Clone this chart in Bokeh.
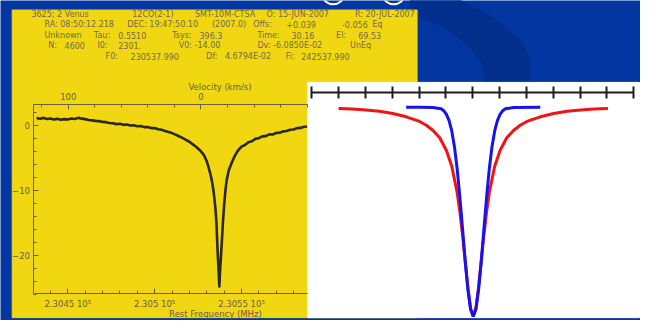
from bokeh.plotting import figure
from bokeh.models import (Range1d, LinearAxis, SingleIntervalTicker, FixedTicker,
                          Label, ColumnDataSource)
from bokeh.core.properties import value
from bokeh.embed import file_html
from bokeh.resources import INLINE

# ---------------- data: observed CO(2-1) spectrum of Venus ----------------
spec_freq = [230432, 230434, 230436, 230438, 230440, 230442, 230444, 230446, 230448, 230450,
             230452, 230454, 230456, 230458, 230460, 230462, 230464, 230466, 230468, 230470,
             230472, 230474, 230476, 230478, 230480, 230482, 230484, 230486, 230488, 230490,
             230492, 230494, 230496, 230498, 230500, 230502, 230504, 230506, 230508, 230510,
             230512, 230514, 230516, 230518, 230520, 230522, 230524, 230526, 230528, 230529,
             230530, 230531, 230532, 230533, 230534, 230535, 230535.6, 230536.1, 230536.7, 230537.25,
             230537.8, 230538.6, 230539.3, 230540.1, 230540.7, 230541.4, 230542.6, 230544.2, 230546, 230548,
             230550, 230552, 230554, 230556, 230558, 230560, 230562, 230564, 230566, 230568,
             230570, 230572, 230574, 230576, 230578, 230580, 230582, 230584, 230586, 230588,
             230590]
spec_ta = [1.10, 0.98, 1.12, 0.95, 1.03, 0.88, 0.97, 0.82, 0.93, 0.88,
           1.02, 0.96, 1.12, 1.00, 0.93, 0.80, 0.74, 0.66, 0.62, 0.50,
           0.46, 0.33, 0.30, 0.16, 0.22, 0.05, 0.10, -0.06, -0.02, -0.16,
           -0.12, -0.30, -0.28, -0.45, -0.44, -0.62, -0.72, -0.88, -1.05, -1.22,
           -1.45, -1.70, -1.95, -2.25, -2.55, -2.95, -3.35, -3.85, -4.45, -4.95,
           -5.55, -6.40, -7.40, -8.60, -10.30, -12.80, -15.0, -18.4, -21.8, -24.8,
           -21.8, -18.4, -15.0, -12.0, -10.2, -8.6, -7.0, -5.9, -4.8, -3.9,
           -3.30, -3.05, -2.62, -2.48, -2.10, -2.00, -1.72, -1.68, -1.42, -1.44,
           -1.18, -1.16, -0.95, -0.90, -0.70, -0.66, -0.46, -0.42, -0.25, -0.20,
           -0.08]

freq_ticks = {230450: "2.3045 10⁵", 230500: "2.305 10⁵", 230550: "2.3055 10⁵"}

# ---------------- data: model line profiles (right panel) ----------------
red_x = [1.00, 1.52, 2.02, 2.52, 3.02, 3.52, 4.02, 4.27, 4.52, 4.77, 5.02, 5.22, 5.42, 5.52,
         5.62, 5.72, 5.82, 5.92, 6.02, 6.12, 6.22, 6.32, 6.42, 6.52, 6.62, 6.82, 7.02, 7.27,
         7.52, 7.77, 8.02, 8.52, 9.02, 9.52, 10.02, 10.52, 11.04]
red_y = [-0.010, -0.013, -0.018, -0.024, -0.034, -0.050, -0.072, -0.090, -0.115, -0.150,
         -0.210, -0.285, -0.410, -0.500, -0.610, -0.735, -0.860, -0.960, -1.000, -0.960,
         -0.860, -0.735, -0.610, -0.500, -0.410, -0.285, -0.210, -0.150, -0.115, -0.090,
         -0.072, -0.050, -0.034, -0.024, -0.018, -0.013, -0.010]
blue_x = [3.52, 4.02, 4.52, 4.82, 4.92, 5.02, 5.12, 5.22, 5.32, 5.42, 5.52, 5.62, 5.72, 5.82,
          5.92, 6.02, 6.12, 6.22, 6.32, 6.42, 6.52, 6.62, 6.72, 6.82, 6.92, 7.02, 7.12, 7.22,
          7.52, 8.52]
blue_y = [-0.005, -0.005, -0.006, -0.012, -0.021, -0.038, -0.068, -0.117, -0.192, -0.296,
          -0.430, -0.580, -0.736, -0.872, -0.966, -1.000, -0.966, -0.872, -0.736, -0.580,
          -0.430, -0.296, -0.192, -0.117, -0.068, -0.038, -0.021, -0.012, -0.006, -0.005]
ruler_ticks = [0, 1, 2, 3, 4, 5, 6, 7, 8, 9, 10, 11, 12]

# ---------------- header text of the spectrum ----------------
hdr_text = ["3625;  2 Venus", "12CO(2-1)", "SMT-10M-CTSA", "O: 15-JUN-2007", "R: 20-JUL-2007",
            "RA: 08:50:12.218", "DEC: 19:47:50.10", "(2007.0)", "Offs:", "+0.039", "-0.056", "Eq",
            "Unknown", "Tau:", "0.5510", "Tsys:", "396.3", "Time:", "30.16", "El:", "69.53",
            "N:", "4600", "I0:", "2301.", "V0:  -14.00", "Dv:  -6.0850E-02", "UnEq",
            "F0:", "230537.990", "Df:", "4.6794E-02", "Fi:", "242537.990"]
hdr_x = [31.7, 135, 199.3, 272.7, 363.3,
         45, 130, 216.7, 259, 293, 350, 381,
         45, 95.7, 120.7, 176, 204, 263.3, 298.3, 344, 366.7,
         49, 65.7, 99.3, 120.7, 182.7, 263.3, 358.3,
         107.7, 133.3, 210.7, 230, 292.3, 308.3]
hdr_y = [15] * 5 + [25.7] * 7 + [36.7] * 9 + [47.7] * 7 + [59] * 6

# ---------------- styles ----------------
BLUE = "#0336a0"
DARK = "#022e8c"
YELLOW = "#f1d612"
INK = "#67633f"
FONT = "DejaVu Sans"

p = figure(width=640, height=320, x_range=Range1d(0, 656), y_range=Range1d(336, 0),
           output_backend="svg", toolbar_location=None, x_axis_type=None, y_axis_type=None,
           min_border=0)
p.outline_line_color = None
p.background_fill_color = BLUE
p.border_fill_color = BLUE

p.extra_x_ranges = {
    "freq": Range1d(230411.24, 230779.78),
    "vel": Range1d(151.10, -331.25),
    "ch": Range1d(-11.6, 12.2545),
}
p.extra_y_ranges = {
    "ta": Range1d(-30.03, 19.165),
    "dep": Range1d(-1.0195, 0.5036),
}

# slide decoration
p.patch([420, 472, 508, 533, 543, 541, 497, 494, 478, 455, 420],
        [0, 0, 20, 42, 62, 86, 86, 66, 46, 28, 14], color=DARK)
p.ellipse(x=[341, 403], y=[-5, -5], width=21, height=18, fill_color=None,
          line_color="white", line_width=2)

# yellow spectrum panel
p.quad(left=12, right=427, top=10, bottom=333, color=YELLOW)
p.text(x="x", y="y", text="t", source=ColumnDataSource(dict(x=hdr_x, y=hdr_y, t=hdr_text)),
       text_font=value(FONT), text_font_size=value("8px"), text_color="#716c48",
       text_baseline="middle", text_align="left")
p.line(spec_freq, spec_ta, x_range_name="freq", y_range_name="ta",
       line_color="#2a2817", line_width=2.6, line_join="round")

# white model panel
p.quad(left=315, right=655, top=86, bottom=333, color="white")
p.line(red_x, red_y, x_range_name="ch", y_range_name="dep", line_color="#f01414", line_width=3)
p.line(blue_x, blue_y, x_range_name="ch", y_range_name="dep", line_color="#1414f0", line_width=3)


def style(ax, tin=5, mtin=3):
    ax.axis_line_color = INK
    ax.major_tick_line_color = INK
    ax.minor_tick_line_color = INK
    ax.major_tick_in = tin
    ax.major_tick_out = 0
    ax.minor_tick_in = mtin
    ax.minor_tick_out = 0
    ax.major_label_text_font = FONT
    ax.major_label_text_font_size = "8.5px"
    ax.major_label_text_color = INK


ax_l = LinearAxis(y_range_name="ta", fixed_location=34.3, bounds=(-26.0, 3.1),
                  ticker=SingleIntervalTicker(interval=10, num_minor_ticks=5))
style(ax_l)
ax_l.major_label_standoff = 4
p.add_layout(ax_l, "left")

ax_b = LinearAxis(x_range_name="freq", fixed_location=307.8, bounds=(230430.9, 230588.0),
                  ticker=SingleIntervalTicker(interval=50, num_minor_ticks=5))
style(ax_b)
ax_b.major_label_overrides = freq_ticks
ax_b.major_label_standoff = 5
p.add_layout(ax_b, "below")

ax_t = LinearAxis(x_range_name="vel", fixed_location=109.3, bounds=(-80.5, 125.9),
                  ticker=SingleIntervalTicker(interval=100, num_minor_ticks=5))
style(ax_t)
ax_t.major_label_standoff = 5
p.add_layout(ax_t, "above")

ax_r = LinearAxis(x_range_name="ch", fixed_location=96.7, bounds=(0, 12),
                  ticker=FixedTicker(ticks=ruler_ticks))
ax_r.axis_line_color = "#1c1c1c"
ax_r.axis_line_width = 2.2
ax_r.major_tick_line_color = "#1c1c1c"
ax_r.major_tick_line_width = 2
ax_r.major_tick_in = 6
ax_r.major_tick_out = 6
ax_r.major_label_text_color = None
p.add_layout(ax_r, "above")

p.add_layout(Label(x=225, y=90.5, text="Velocity (km/s)", text_align="center",
                   text_baseline="middle", text_font=FONT, text_font_size="8.5px",
                   text_color=INK))
p.add_layout(Label(x=220.3, y=329.3, text="Rest Frequency (MHz)", text_align="center",
                   text_baseline="middle", text_font=FONT, text_font_size="8.5px",
                   text_color=INK))

open("out.html", "w").write(file_html(p, INLINE))
